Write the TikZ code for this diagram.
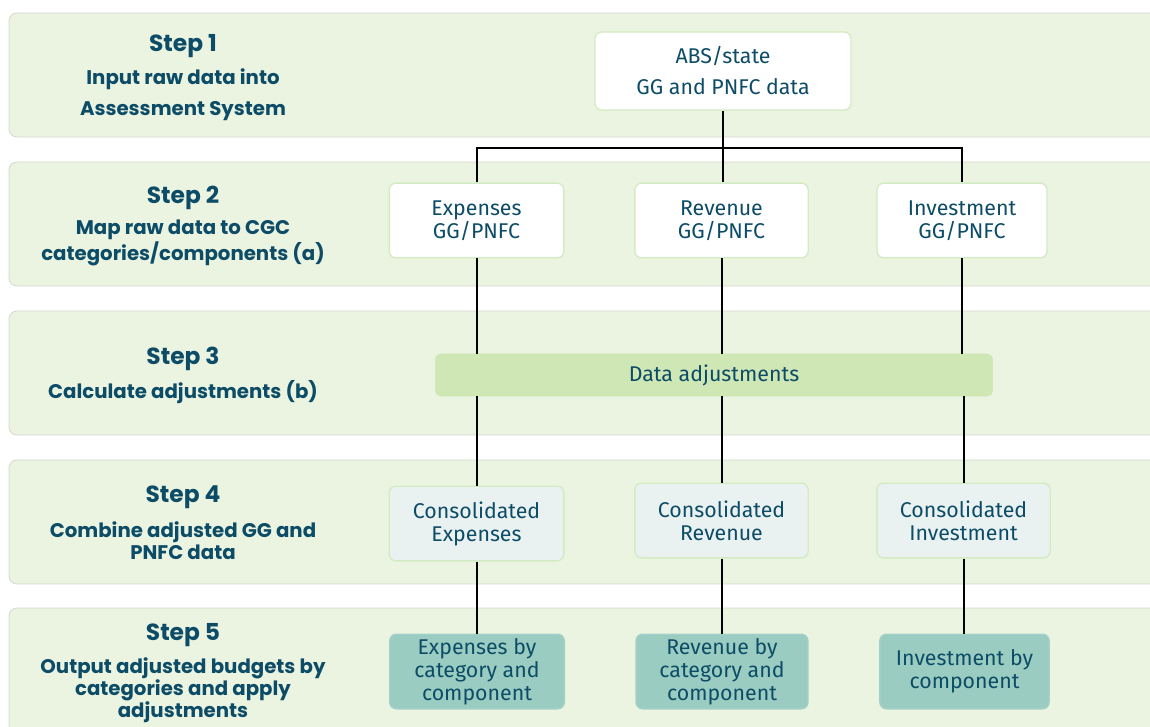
\documentclass[tikz,border=0pt]{standalone}
\usepackage{fontspec}
\setmainfont{Fira Sans}
\newfontfamily\headfont{Poppins}
\usetikzlibrary{positioning}

\definecolor{bandgreen}{HTML}{EBF3E1}
\definecolor{bandline}{HTML}{D3D7CF}
\definecolor{inktext}{HTML}{0D4C66}
\definecolor{boxline}{HTML}{D3EBC3}
\definecolor{adjgreen}{HTML}{CFE6B5}
\definecolor{consfill}{HTML}{E9F1F1}
\definecolor{outteal}{HTML}{9ACCC1}

\begin{document}
\begin{tikzpicture}[x=0.75pt,y=-0.75pt,
    band/.style={fill=bandgreen,draw=bandline,line width=0.6pt,rounded corners=6pt},
    steptitle/.style={text=inktext,font=\headfont\bfseries\fontsize{17.5}{20}\selectfont},
    stepnote/.style={text=inktext,font=\headfont\bfseries\fontsize{14.8}{16.5}\selectfont,align=center},
    databox/.style={draw=boxline,line width=1pt,rounded corners=5pt,text=inktext,align=center,
      font=\fontsize{16}{17.25}\selectfont,minimum width=131pt,minimum height=56pt,inner sep=2pt},
    rawbox/.style={databox,fill=white},
    consbox/.style={databox,fill=consfill},
    outbox/.style={databox,fill=outteal,draw=outteal!90!white},
    link/.style={line width=1.5pt,black}]
  \useasboundingbox (0,0) rectangle (1150,727);
  \clip (0,0) rectangle (1150,727);

  % bands
  \draw[band] (9,13) rectangle (1180,137);
  \draw[band] (9,162) rectangle (1180,286);
  \draw[band] (9,311) rectangle (1180,435);
  \draw[band] (9,460) rectangle (1180,584);
  \draw[band] (9,608) rectangle (1180,760);

  % step labels
  \node[steptitle] (s1) at (183,46) {Step 1};
  \node[stepnote,font=\headfont\bfseries\fontsize{14.8}{23.25}\selectfont] (n1) at (183,95) {Input raw data into\\Assessment System};
  \node[steptitle] (s2) at (183,198) {Step 2};
  \node[stepnote] (n2) at (183,243) {Map raw data to CGC\\categories/components (a)};
  \node[steptitle] (s3) at (183,359) {Step 3};
  \node[stepnote] (n3) at (183,392) {Calculate adjustments (b)};
  \node[steptitle] (s4) at (183,497) {Step 4};
  \node[stepnote] (n4) at (183,541) {Combine adjusted GG and\\PNFC data};
  \node[steptitle] (s5) at (183,635) {Step 5};
  \node[stepnote] (n5) at (183,690) {Output adjusted budgets by\\categories and apply\\adjustments};

  % boxes
  \node[rawbox,minimum width=192pt,minimum height=58.5pt,font=\fontsize{16}{23.25}\selectfont] (abs) at (723,71) {ABS/state\\GG and PNFC data};
  \node[rawbox] (exp) at (476.5,220.5) {Expenses\\GG/PNFC};
  \node[rawbox,minimum width=130pt] (rev) at (721.5,220.5) {Revenue\\GG/PNFC};
  \node[rawbox,minimum width=127.5pt] (inv) at (962,220.5) {Investment\\GG/PNFC};

  \node[draw=adjgreen,fill=adjgreen,rounded corners=4pt,text=inktext,font=\fontsize{16}{17}\selectfont,
    minimum width=418pt,minimum height=31.5pt] (adj) at (714,375) {Data adjustments};

  \node[consbox] (cexp) at (476.5,523.5) {Consolidated\\Expenses};
  \node[consbox,minimum width=130pt] (crev) at (721.5,520.5) {Consolidated\\Revenue};
  \node[consbox,minimum width=130pt] (cinv) at (963.5,520.5) {Consolidated\\Investment};

  \node[outbox] (oexp) at (477,671.5) {Expenses by\\category and\\component};
  \node[outbox,minimum width=129pt] (orev) at (722,671.5) {Revenue by\\category and\\component};
  \node[outbox,minimum width=127pt] (oinv) at (964.5,671.5) {Investment by\\component};

  % connectors
  \coordinate (fork) at (723,148);
  \draw[link] (abs.south) -- (fork);
  \draw[link] (exp.north) |- (fork) -| (inv.north);
  \draw[link] (fork) -- (fork |- rev.north);

  \draw[link] (exp.south) -- (exp.south |- adj.north);
  \draw[link] (rev.south) -- (rev.south |- adj.north);
  \draw[link] (inv.south) -- (inv.south |- adj.north);
  \draw[link] (cexp.north |- adj.south) -- (cexp.north);
  \draw[link] (crev.north |- adj.south) -- (crev.north);
  \draw[link] (cinv.north |- adj.south) -- (cinv.north);

  \draw[link] (cexp.south) -- (cexp.south |- oexp.north);
  \draw[link] (crev.south) -- (crev.south |- orev.north);
  \draw[link] (cinv.south) -- (cinv.south |- oinv.north);
\end{tikzpicture}
\end{document}
